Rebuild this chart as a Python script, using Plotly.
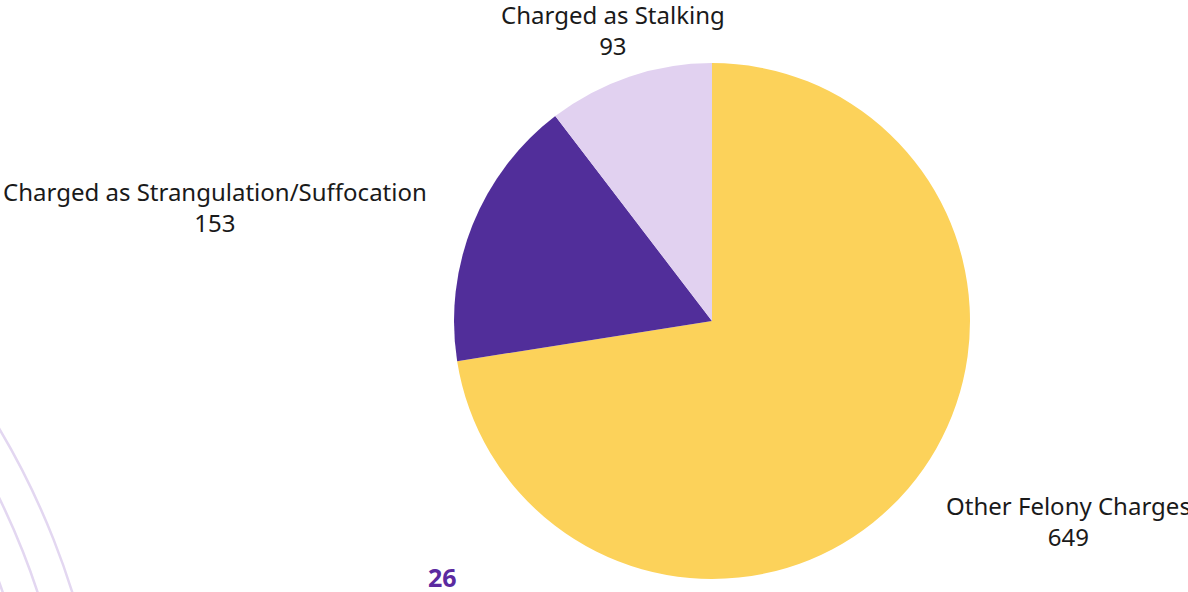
import plotly.graph_objects as go

W, H = 1188, 592

categories = ["Other Felony Charges", "Charged as Strangulation/Suffocation", "Charged as Stalking"]
values = [649, 153, 93]
colors = ["#FCD25A", "#512E9A", "#E1D1F0"]
page_number = "26"

# label anchor positions (pixels, centre of text block)
label_pos = [(1068, 521), (215, 207), (613, 30)]

def px(x):
    return x / W

def py(y):
    return 1 - y / H

cx, cy, r = 712, 321, 258

fig = go.Figure(go.Pie(
    labels=categories,
    values=values,
    marker=dict(colors=colors, line=dict(width=0)),
    sort=False,
    direction="clockwise",
    rotation=0,
    textinfo="none",
    hoverinfo="label+value",
    showlegend=False,
    domain=dict(x=[px(cx - r), px(cx + r)], y=[py(cy + r), py(cy - r)]),
))

annotations = []
for (lx, ly), cat, val in zip(label_pos, categories, values):
    annotations.append(dict(
        x=px(lx), y=py(ly), xref="paper", yref="paper",
        text=f"{cat}<br>{val}", showarrow=False, align="center",
        xanchor="center", yanchor="middle",
        font=dict(family="Noto Sans", size=24, color="#1a1a1a"),
    ))
annotations.append(dict(
    x=px(442), y=py(590), xref="paper", yref="paper",
    text=f"<b>{page_number}</b>", showarrow=False,
    xanchor="center", yanchor="bottom", yshift=-6,
    font=dict(family="Noto Sans", size=25, color="#5B2AA0"),
))

shapes = []
ccx, ccy = -656, 820
for rr in [763, 730, 697]:
    shapes.append(dict(
        type="circle", xref="paper", yref="paper",
        x0=px(ccx - rr), x1=px(ccx + rr), y0=py(ccy + rr), y1=py(ccy - rr),
        line=dict(color="#E3D7F1", width=2.5), fillcolor="rgba(0,0,0,0)",
        layer="below",
    ))

fig.update_layout(
    width=W, height=H,
    margin=dict(l=0, r=0, t=0, b=0),
    paper_bgcolor="white", plot_bgcolor="white",
    annotations=annotations, shapes=shapes,
)

fig.write_html(
    "out.html",
    config={"displayModeBar": False},
    post_script="document.body.style.margin='0';document.body.style.overflow='hidden';",
)
